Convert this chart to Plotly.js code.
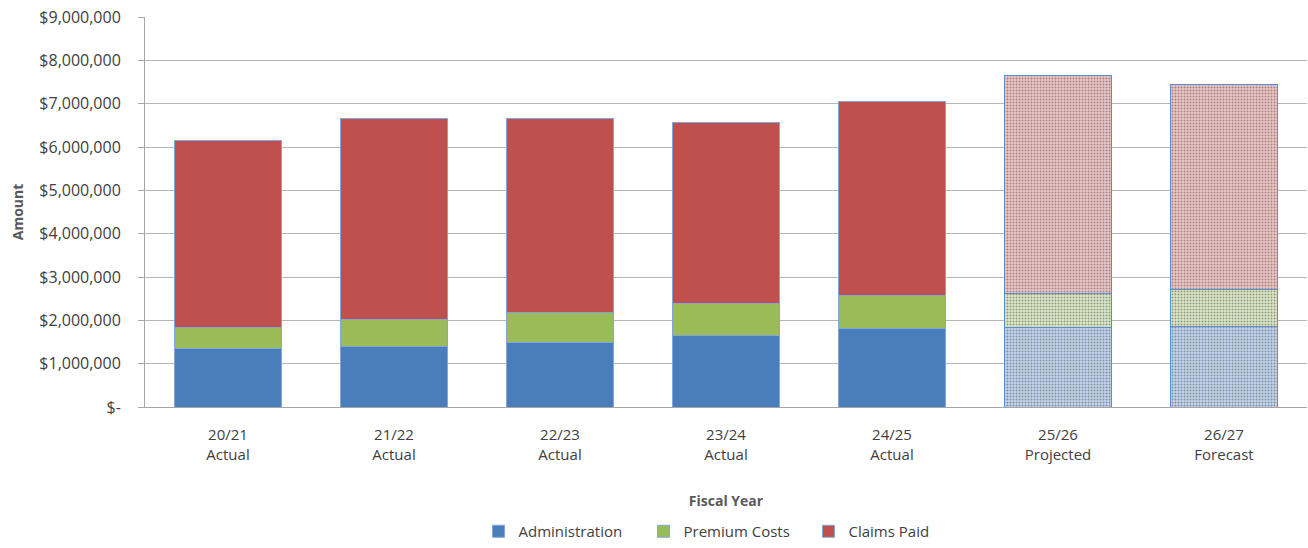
<!DOCTYPE html>
<html><head><meta charset="utf-8">
<script src="https://cdn.plot.ly/plotly-3.0.1.min.js"></script>
<style>html,body{margin:0;padding:0;background:#fff}#chart{width:1308px;height:548px}</style>
</head><body><div id="chart"></div>
<script>
const categories = ["20/21<br>Actual","21/22<br>Actual","22/23<br>Actual","23/24<br>Actual","24/25<br>Actual","25/26<br>Projected","26/27<br>Forecast"];
const isEstimate = [false,false,false,false,false,true,true];
const administration = [1360000,1400000,1500000,1660000,1820000,1840000,1860000];
const premiumCosts = [480000,630000,690000,730000,760000,780000,860000];
const claimsPaid = [4310000,4620000,4460000,4170000,4460000,5020000,4720000];
const yTickVals = [0,1000000,2000000,3000000,4000000,5000000,6000000,7000000,8000000,9000000];
const yTickText = ["$-","$1,000,000","$2,000,000","$3,000,000","$4,000,000","$5,000,000","$6,000,000","$7,000,000","$8,000,000","$9,000,000"];

function series(name, vals, solid, light){
  return {
    type:'bar', name:name, x:categories, y:vals,
    marker:{
      color: isEstimate.map(e=> e? light : solid),
      line:{color: isEstimate.map(e=> e? '#5b8ccc' : '#7fa7d9'), width:1},
      pattern:{shape: isEstimate.map(e=> e? '.' : ''), fillmode:'overlay', fgcolor: solid, size:3, solidity:0.35}
    },
    hoverinfo:'y+name'
  };
}
const data = [
  series('Administration', administration, '#4a7ebb', '#c3d5ee'),
  series('Premium Costs', premiumCosts, '#9bbb59', '#dce9c6'),
  series('Claims Paid', claimsPaid, '#c0504d', '#f0c6c5')
];
const layout = {
  width:1308, height:548,
  margin:{l:145, r:1, t:17, b:140},
  barmode:'stack', bargap:0.35,
  paper_bgcolor:'#fff', plot_bgcolor:'#fff',
  font:{family:'"Open Sans", "Liberation Sans", sans-serif', size:15, color:'#404040'},
  xaxis:{
    title:{text:'Fiscal Year', font:{size:14, color:'#595959', weight:'bold'}, standoff:33},
    showline:true, linecolor:'#a6a6a6', linewidth:1, ticks:'', tickfont:{size:15, color:'#404040'},
    ticklabelstandoff:14, showgrid:false
  },
  yaxis:{
    title:{text:'Amount', font:{size:14, color:'#595959', weight:'bold'}, standoff:12},
    range:[0,9000000], tickvals:yTickVals, ticktext:yTickText,
    showgrid:true, gridcolor:'#b5b5b5', gridwidth:1,
    showline:true, linecolor:'#a6a6a6', ticks:'outside', ticklen:6, tickcolor:'#a6a6a6',
    ticklabelstandoff:14, tickfont:{size:16, color:'#404040'}, zeroline:false
  },
  legend:{orientation:'h', x:0.5, xanchor:'center', y:-0.317, yanchor:'middle', font:{size:15, color:'#404040'}, traceorder:'normal', itemwidth:30, entrywidth:120, entrywidthmode:'pixels'},
  showlegend:true
};
Plotly.newPlot('chart', data, layout, {displayModeBar:false});
</script></body></html>
